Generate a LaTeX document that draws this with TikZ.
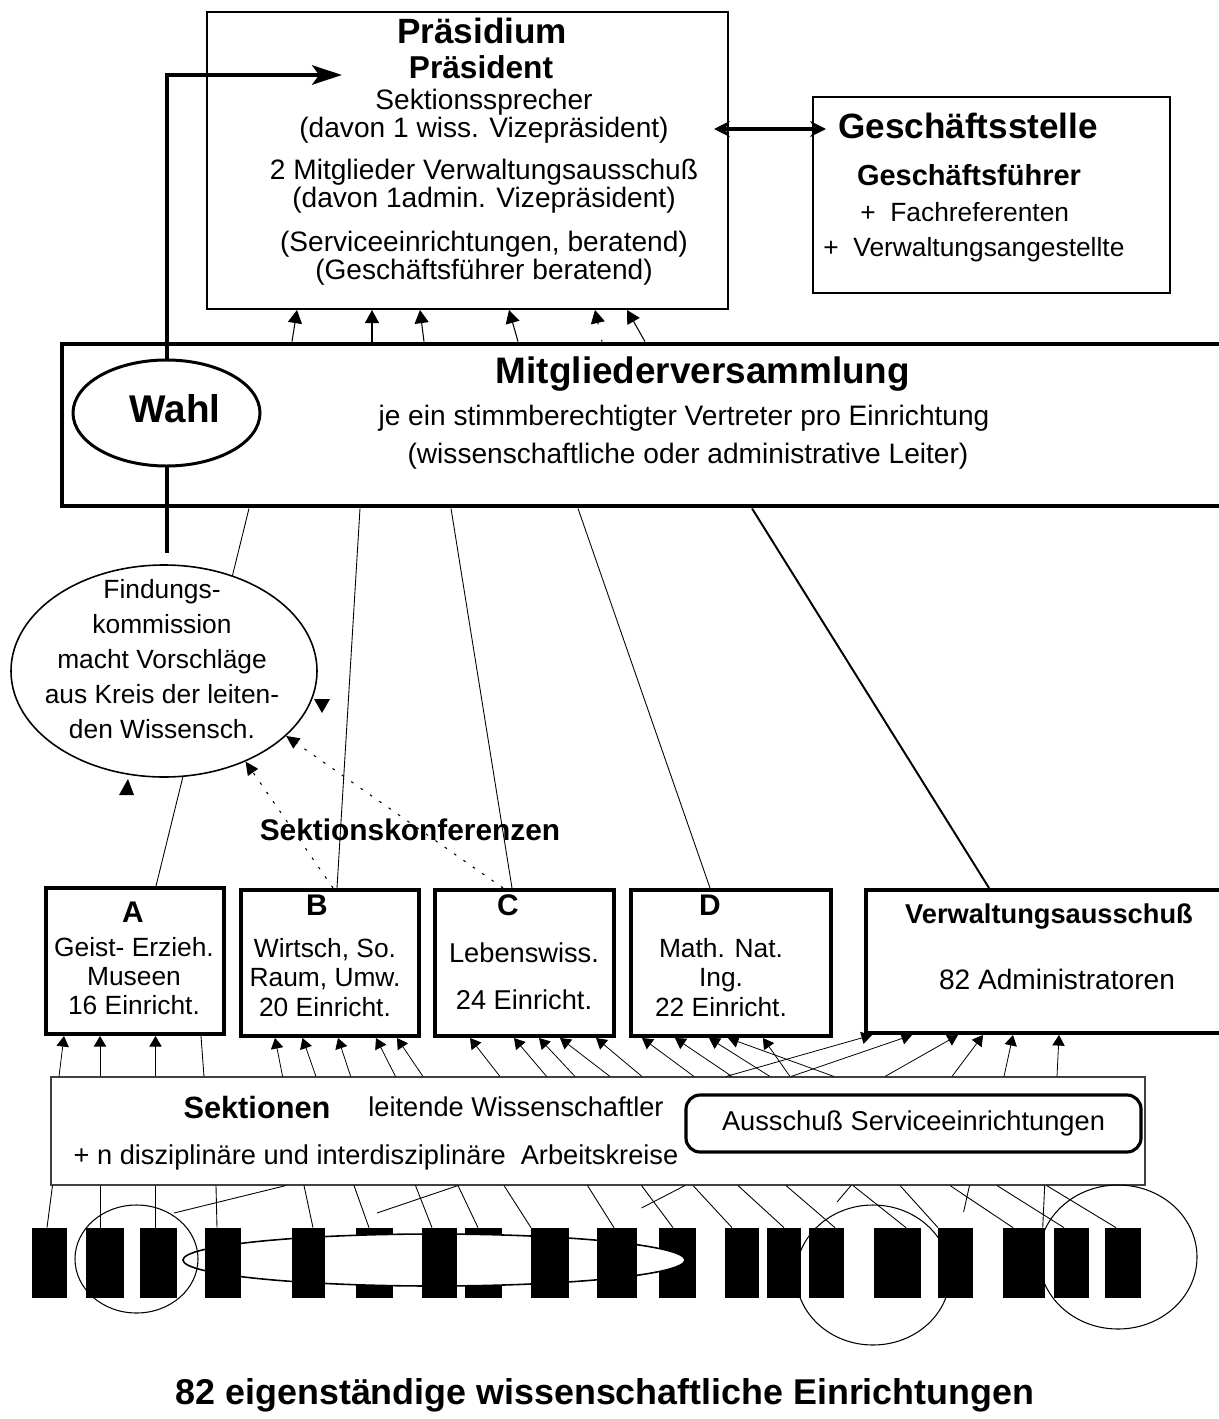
\documentclass[tikz,border=0pt]{standalone}
\usepackage{fontspec}
\setmainfont{Liberation Sans}
\usetikzlibrary{arrows.meta,shapes.geometric}
\def\pxu{0.02cm}
\newcommand{\fsz}[2]{\fontsize{#1}{#2}\selectfont}
\tikzset{
  frame/.style={draw, line width=1.1pt, inner sep=0pt},
  secbox/.style={draw, line width=2.3pt, inner sep=0pt},
  lbl/.style={inner sep=0pt, align=center, font=\fsz{16}{16}},
  hdr/.style={inner sep=0pt, font=\bfseries\fsz{#1}{#1}},
  up/.style={-{Triangle[length=7.5pt,width=8pt]}, line width=0.6pt},
  upsm/.style={-{Triangle[length=6pt,width=7pt]}, line width=0.45pt},
  link/.style={line width=0.5pt},
  hint/.style={-{Triangle[length=7.5pt,width=7pt]}, line width=0.6pt, dash pattern=on 1.5pt off 5pt},
  vote/.style={-{Stealth[length=17pt,width=11pt,inset=4pt]}, line width=2.3pt},
  both/.style={{Stealth[length=9pt,width=9pt]}-{Stealth[length=9pt,width=9pt]}, line width=2pt},
  inst/.style={fill=black, inner sep=0pt, minimum height=70*\pxu, minimum width=#1*\pxu},
  ring/.style={ellipse, draw, line width=0.6pt, inner sep=0pt},
}

\begin{document}
\begin{tikzpicture}[x=0.02cm,y=-0.02cm]
  \useasboundingbox (0,0) rectangle (1219,1419);

  % Praesidium + Geschaeftsstelle
  \node[frame, minimum width=521*\pxu, minimum height=297*\pxu] (praes) at (467.5,160.5) {};
  \node[hdr=20] (praesT) at (482,31) {Präsidium};
  \node[hdr=18] (praesP) at (481,67) {Präsident};
  \node[lbl] (praesL) at (484,187) {Sektionssprecher\\(davon 1 wiss. Vizepräsident)\\[8pt]2 Mitglieder Verwaltungsausschuß\\(davon 1admin. Vizepräsident)\\[9pt](Serviceeinrichtungen, beratend)\\(Geschäftsführer beratend)};

  \node[frame, minimum width=357*\pxu, minimum height=196*\pxu] (gs) at (991.5,195) {};
  \node[hdr=20] (gsT) at (968,126) {Geschäftsstelle};
  \node[hdr=16.5] (gsF) at (969,175) {Geschäftsführer};
  \node[lbl, anchor=west, font=\fsz{15}{15}] (gsR) at (860,212) {+\ \ Fachreferenten};
  \node[lbl, anchor=west, font=\fsz{15}{15}] (gsV) at (823,250) {+\ \ Verwaltungsangestellte};
  \coordinate (praesOut) at (714,129);
  \coordinate (gsIn) at (826,129);
  \draw[both] (praesOut) -- (gsIn);

  % Mitgliederversammlung
  \node[draw, line width=2.8pt, inner sep=0pt, minimum width=1168*\pxu, minimum height=162*\pxu] (mv) at (646,425) {};
  \node[hdr=21] (mvT) at (703,374) {Mitgliederversammlung};
  \node[lbl] (mvL1) at (684,418) {je ein stimmberechtigter Vertreter pro Einrichtung};
  \node[lbl] (mvL2) at (688,456) {(wissenschaftliche oder administrative Leiter)};
  \foreach \a/\b in {292/297,372/372,424/420,518/509,645/627}
    \draw[up] (\a,0 |- mv.north) -- (\b,0 |- praes.south);
  \draw[up, dash pattern=on 1pt off 9pt] (602,0 |- mv.north) -- (595,0 |- praes.south);

  % Wahl
  \coordinate (wahlFoot) at (167,553);
  \coordinate (praesIn) at (342,75);
  \draw[vote] (wahlFoot) |- (praesIn);
  \node[ellipse, draw, fill=white, line width=1.7pt, inner sep=0pt, minimum width=187*\pxu, minimum height=106*\pxu] (wahl) at (166.5,413) {};
  \node[hdr=22] (wahlT) at (175,409) {Wahl};

  % Sektionen A-D, Verwaltungsausschuss
  \node[secbox, minimum width=178*\pxu, minimum height=146*\pxu] (secA) at (135,961) {};
  \node[secbox, minimum width=178*\pxu, minimum height=146*\pxu] (secB) at (330,963) {};
  \node[secbox, minimum width=179*\pxu, minimum height=146*\pxu] (secC) at (524.5,963) {};
  \node[secbox, minimum width=200*\pxu, minimum height=146*\pxu] (secD) at (731,963) {};
  \node[secbox, minimum width=364*\pxu, minimum height=143*\pxu] (verw) at (1048,961.5) {};
  \node[hdr=17] (secAT) at (133,912) {A};
  \node[lbl, font=\fsz{15}{16.5}] (secAL) at (134,976) {Geist- Erzieh.\\Museen\\16 Einricht.};
  \node[hdr=17] (secBT) at (317,905) {B};
  \node[lbl, font=\fsz{15}{17}] (secBL) at (325,977.5) {Wirtsch, So.\\Raum, Umw.\\20 Einricht.};
  \node[hdr=17] (secCT) at (508,905) {C};
  \node[lbl, font=\fsz{15.5}{26.6}] (secCL) at (524,976.5) {Lebenswiss.\\24 Einricht.};
  \node[hdr=17] (secDT) at (710,905) {D};
  \node[lbl, font=\fsz{15}{16.7}] (secDL) at (721,977.5) {Math. Nat.\\Ing.\\22 Einricht.};
  \node[hdr=15.5] (verwT) at (1049,917) {Verwaltungsausschuß};
  \node[lbl] (verwL) at (1057,979) {82 Administratoren};

  \draw[link] (249,0 |- mv.south) -- (156,0 |- secA.north);
  \draw[link] (360,0 |- mv.south) -- (337,0 |- secB.north);
  \draw[link] (451,0 |- mv.south) -- (512,0 |- secC.north);
  \draw[link] (578,0 |- mv.south) -- (710,0 |- secD.north);
  \draw[link, line width=1.1pt] (752,0 |- mv.south) -- (989,0 |- verw.north);

  % Findungskommission
  \node[ellipse, draw, fill=white, line width=0.9pt, inner sep=0pt, minimum width=306*\pxu, minimum height=212*\pxu] (fk) at (164,671) {};
  \node[lbl, font=\fsz{15}{20}] (fkT) at (162,659) {Findungs-\\kommission\\macht Vorschläge\\aus Kreis der leiten-\\den Wissensch.};
  \draw[hint] (333,0 |- secB.north) -- (fk.-48);
  \draw[hint] (503,0 |- secC.north) -- (fk.-28);
  \fill (314,699) -- (330,699) -- (322,713) -- cycle;
  \fill (119,795) -- (134,795) -- (128,779) -- cycle;
  \node[hdr=17] (konf) at (410,830) {Sektionskonferenzen};

  % Sektionen
  \node[draw=black!75, line width=0.6pt, inner sep=0pt, minimum width=1094*\pxu, minimum height=108*\pxu] (sek) at (598,1131) {};
  \node[hdr=17.5] (sekT) at (257,1107) {Sektionen};
  \node[lbl, font=\fsz{15.5}{15.5}] (sekL) at (516,1107) {leitende Wissenschaftler};
  \node[lbl, font=\fsz{15.5}{15.5}] (sekK) at (376,1157) {+ n disziplinäre und interdisziplinäre\ \ Arbeitskreise};
  \node[draw, line width=1.8pt, rounded corners=8pt, inner sep=0pt, minimum width=455*\pxu, minimum height=57*\pxu, font=\fsz{15.5}{15.5}] (svc) at (913.5,1123.5) {Ausschuß Serviceeinrichtungen};

  \foreach \a/\b in {59/64,100/100,155.5/155.5}
    \draw[upsm] (\a,0 |- sek.north) -- (\b,0 |- secA.south);
  \draw[link] (204,0 |- sek.north) -- (201,0 |- secA.south);
  \foreach \a/\b in {282.6/275,316/302.5,350.7/338,395.5/376,423/397}
    \draw[upsm] (\a,0 |- sek.north) -- (\b,0 |- secB.south);
  \foreach \a/\b in {500/470,546.6/514,575/539,610/560,642/596}
    \draw[upsm] (\a,0 |- sek.north) -- (\b,0 |- secC.south);
  \foreach \a/\b in {694/642,732/675,770/709,834/728,790/763}
    \draw[upsm] (\a,0 |- sek.north) -- (\b,0 |- secD.south);
  \foreach \a/\b in {726/872,791/912,885/958,952/983,1004/1013,1057/1059}
    \draw[upsm] (\a,0 |- sek.north) -- (\b,0 |- verw.south);

  % 82 Einrichtungen
  \foreach \n/\x/\w in {6/374.5/37,8/483.5/37,11/677.5/37}
    \node[inst=\w] (r\n) at (\x,1263) {};
  \node[ellipse, draw, fill=white, line width=0.9pt, inner sep=0pt, minimum width=502*\pxu, minimum height=52*\pxu] (cluster) at (434,1260) {};
  \foreach \n/\x/\w in {1/49.5/35,2/105/38,3/158.5/37,4/223/36,5/308.5/33,7/439.5/35,9/550/38,10/617/40,
                        12/742/34,13/784/34,14/826.5/35,15/897.5/47,16/955.5/35,17/1024/42,18/1071.5/35,19/1123/36}
    \node[inst=\w] (r\n) at (\x,1263) {};
  \node[ring, minimum width=123*\pxu, minimum height=108*\pxu] (grp1) at (136.5,1259) {};
  \node[ring, minimum width=154*\pxu, minimum height=140*\pxu] (grp2) at (873,1275) {};
  \node[ring, minimum width=158*\pxu, minimum height=144*\pxu] (grp3) at (1118,1257) {};

  \foreach \a/\b/\r in {52.5/47/1,100/100/2,155/155/3,216/217/4,304/313/5,354/369/6,415.5/432/7,458/478/8,
                        504/531/9,587.5/614/10,641.5/673/11,693/732/12,738/784/13,786/835/14,853/906/15,
                        900/938/16,950/1013/17,997/1064/18,1044.7/1042.7/17,1046.6/1116/19}
    \draw[link] (\a,0 |- sek.south) -- (\b,0 |- r\r.north);
  \coordinate (f1) at (174,1213);
  \coordinate (f2) at (377,1213);
  \coordinate (f3) at (641.5,1208);
  \coordinate (f4) at (837,1202);
  \coordinate (f5) at (963.6,1212);
  \foreach \a/\f in {286/f1,458/f2,685/f3,851/f4,969.5/f5}
    \draw[link] (\a,0 |- sek.south) -- (\f);

  \node[hdr=20.4] (caption) at (605,1395) {82 eigenständige wissenschaftliche Einrichtungen};
\end{tikzpicture}
\end{document}
